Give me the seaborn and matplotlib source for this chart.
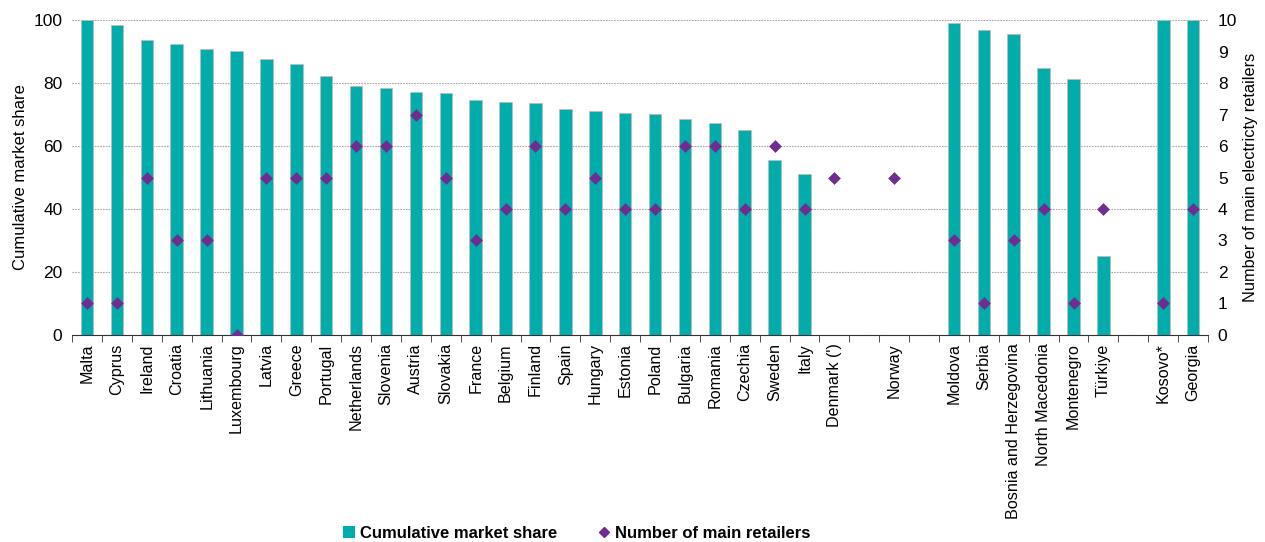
import numpy as np
import pandas as pd
import matplotlib
matplotlib.use("Agg")
import matplotlib.pyplot as plt
import seaborn as sns
from matplotlib.lines import Line2D
from matplotlib.patches import Patch

# country order, blanks are spacer slots
countries = ["Malta", "Cyprus", "Ireland", "Croatia", "Lithuania", "Luxembourg", "Latvia",
             "Greece", "Portugal", "Netherlands", "Slovenia", "Austria", "Slovakia", "France",
             "Belgium", "Finland", "Spain", "Hungary", "Estonia", "Poland", "Bulgaria",
             "Romania", "Czechia", "Sweden", "Italy", "Denmark (')", " ", "Norway", "  ",
             "Moldova", "Serbia", "Bosnia and Herzegovina", "North Macedonia", "Montenegro",
             "Türkiye", "   ", "Kosovo*", "Georgia"]
market_share = [100, 98.5, 93.8, 92.5, 90.8, 90.3, 87.6, 86, 82.2, 79, 78.5, 77, 76.8, 74.5,
                74, 73.7, 71.7, 71, 70.4, 70.1, 68.6, 67.2, 65, 55.5, 51, np.nan, np.nan,
                np.nan, np.nan, 99, 97, 95.5, 84.7, 81.2, 25.1, np.nan, 100, 100]
n_retailers = [1, 1, 5, 3, 3, 0, 5, 5, 5, 6, 6, 7, 5, 3, 4, 6, 4, 5, 4, 4, 6, 6, 4, 6, 4,
               5, np.nan, 5, np.nan, 3, 1, 3, 4, 1, 4, np.nan, 1, 4]

bar_color = "#00ADAA"
dia_color = "#6F2C91"

df = pd.DataFrame({"country": countries, "share": market_share, "retailers": n_retailers})

plt.rcParams["font.family"] = ["Liberation Sans", "DejaVu Sans"]
fig, ax = plt.subplots(figsize=(12.65, 5.42), dpi=100)

sns.barplot(data=df, x="country", y="share", order=countries, color=bar_color,
            width=0.42, saturation=1, edgecolor="#BBBBBB", linewidth=0.6, ax=ax, zorder=2)
ax.set_ylim(0, 100)
ax.set_yticks(range(0, 101, 20))
ax.yaxis.grid(True, linestyle=(0, (1.5, 1)), color="#A8A8A8", linewidth=0.8)
ax.set_axisbelow(True)
ax.set_ylabel("Cumulative market share", fontsize=12, labelpad=4)
ax.set_xlabel("")
ax.set_xlim(-0.5, len(countries) - 0.5)

ax2 = ax.twinx()
sns.stripplot(data=df, x="country", y="retailers", order=countries, jitter=False,
              marker="D", color=dia_color, size=6.5, ax=ax2, zorder=3)
ax2.set_ylim(0, 10)
ax2.set_yticks(range(0, 11))
ax2.set_ylabel("Number of main electricty retailers", fontsize=11.8, labelpad=4)
ax2.set_xlim(-0.5, len(countries) - 0.5)

for a in (ax, ax2):
    for s in ["top", "left", "right"]:
        a.spines[s].set_visible(False)
    a.tick_params(axis="y", length=0, labelsize=12.5, pad=7)
ax.spines["bottom"].set_color("#333333")
ax2.spines["bottom"].set_visible(False)

ax.set_xticks(range(len(countries)))
ax.set_xticklabels(countries, rotation=90, fontsize=11.6)
ax.set_xticks(np.arange(-0.5, len(countries), 1), minor=True)
ax.tick_params(axis="x", which="major", length=0, pad=6)
ax.tick_params(axis="x", which="minor", length=5, color="#333333", direction="out")

handles = [Patch(facecolor=bar_color, edgecolor="none", label="Cumulative market share"),
           Line2D([], [], marker="D", color=dia_color, linestyle="none", markersize=5,
                  label="Number of main retailers")]
fig.legend(handles=handles, loc="lower center", ncol=2, frameon=False,
           prop={"weight": "bold", "size": 12}, handlelength=0.7, handletextpad=0.3,
           columnspacing=2.5, bbox_to_anchor=(0.456, -0.025))

fig.subplots_adjust(left=0.057, right=0.955, top=0.963, bottom=0.382)
fig.savefig("out.png", dpi=100)
